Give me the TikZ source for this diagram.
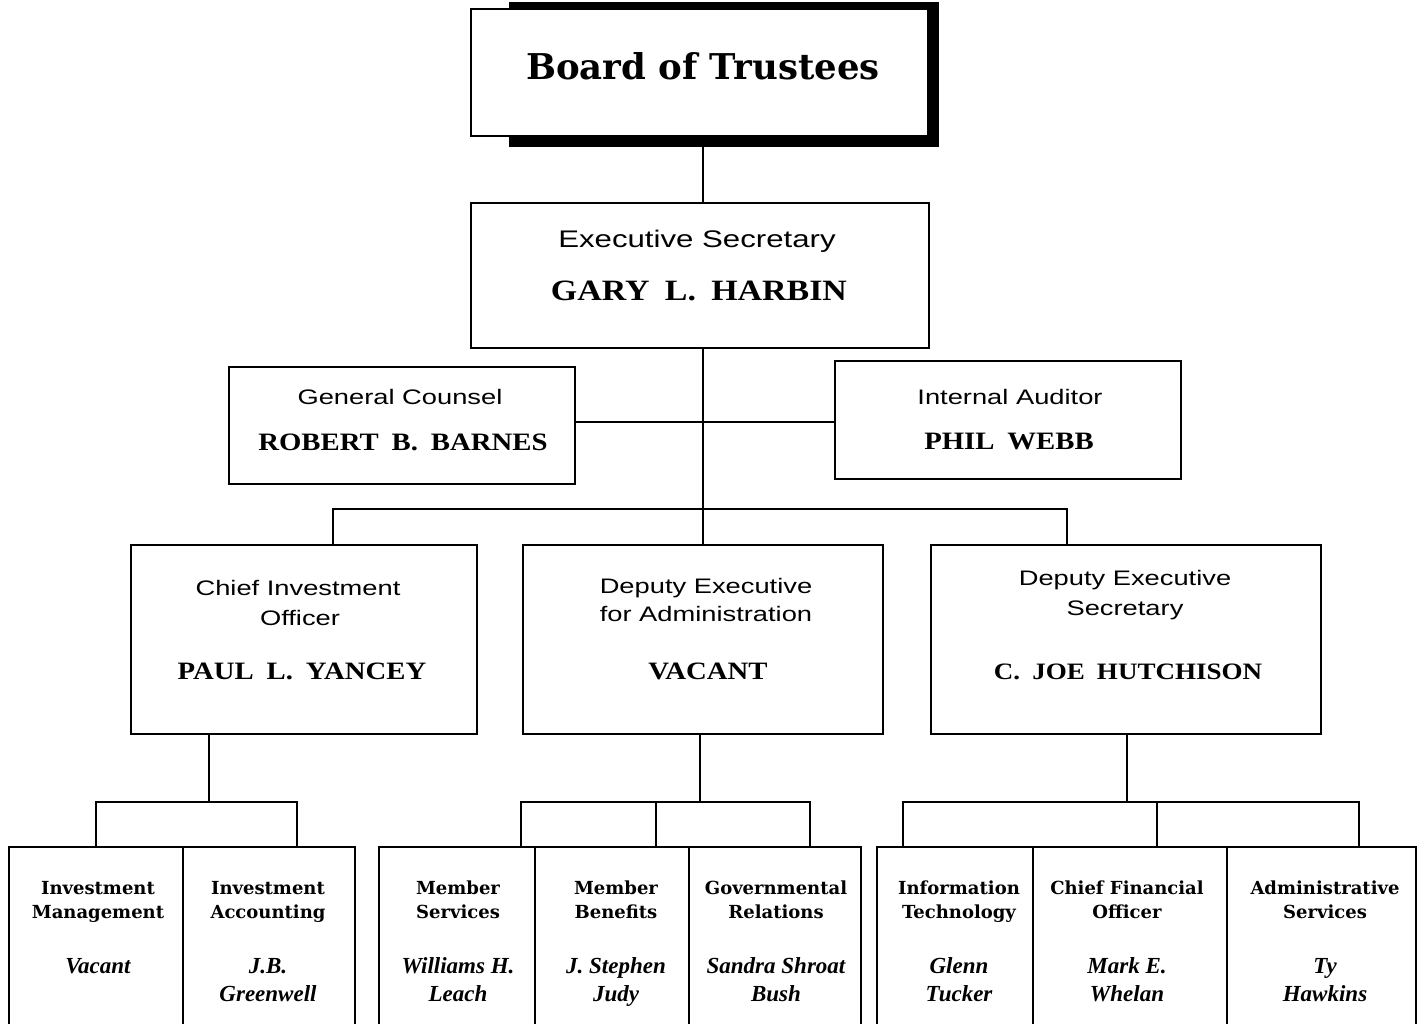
\documentclass[tikz,border=0pt]{standalone}
\usepackage{fontspec}
\newfontfamily\labf[FakeStretch=1.3]{Liberation Sans}
\newfontfamily\namf[FakeStretch=1.15,WordSpace=1.8]{Liberation Serif}
\newfontfamily\ttlf{DejaVu Serif}
\newfontfamily\perf{Liberation Serif}
\newcommand\dept[6]{%
  \node[txt,ttl] (#1t1) at (#2,894) {#3};
  \node[txt,ttl] (#1t2) at (#2,918) {#4};
  \node[txt,per] (#1n1) at (#2,973) {#5};
  \node[txt,per] (#1n2) at (#2,1001) {#6};}
\begin{document}
\begin{tikzpicture}[x=1pt,y=-1pt,
  box/.style={draw, line width=2pt, inner sep=0pt, outer sep=0pt},
  ln/.style={line width=2pt},
  txt/.style={inner sep=0pt, outer sep=0pt, anchor=base},
  lab/.style={font=\labf\fontsize{21}{25}\selectfont},
  nam/.style={font=\namf\bfseries\fontsize{25}{29}\selectfont},
  ttl/.style={font=\ttlf\bfseries\fontsize{18}{22}\selectfont},
  per/.style={font=\perf\bfseries\itshape\fontsize{23}{27}\selectfont}]
\useasboundingbox (0,0) rectangle (1421,1024);
\clip (0,0) rectangle (1421,1024);

% Board of Trustees
\node[fill=black, inner sep=0pt, outer sep=0pt, minimum width=430pt, minimum height=145pt] (boardshadow) at (724,74.5) {};
\node[box, fill=white, minimum width=457pt, minimum height=127pt] (board) at (699.5,72.5) {};
\node[txt, font=\ttlf\bfseries\fontsize{35.5}{40}\selectfont] (boardt) at (703,80) {Board of Trustees};

% Executive Secretary
\node[box, minimum width=458pt, minimum height=145pt] (exec) at (700,275.5) {};
\node[txt, font=\labf\fontsize{24}{28}\selectfont] (exect) at (697,248) {Executive Secretary};
\node[txt, font=\namf\bfseries\fontsize{29.5}{33}\selectfont] (execn) at (699,300) {GARY L. HARBIN};

% staff boxes
\node[box, minimum width=346pt, minimum height=117pt] (gc) at (402,425.5) {};
\node[txt,lab] (gct) at (400,404) {General Counsel};
\node[txt,nam] (gcn) at (403,450) {ROBERT B. BARNES};
\node[box, minimum width=346pt, minimum height=118pt] (ia) at (1008,420) {};
\node[txt,lab] (iat) at (1010,404) {Internal Auditor};
\node[txt,nam] (ian) at (1009,449) {PHIL WEBB};

% third row
\node[box, minimum width=346pt, minimum height=189pt] (cio) at (304,639.5) {};
\node[txt,lab] (ciot1) at (298,595) {Chief Investment};
\node[txt,lab] (ciot2) at (300,625) {Officer};
\node[txt,nam] (cion) at (302,679) {PAUL L. YANCEY};
\node[box, minimum width=360pt, minimum height=189pt] (dea) at (703,639.5) {};
\node[txt,lab] (deat1) at (706,593) {Deputy Executive};
\node[txt,lab] (deat2) at (706,621) {for Administration};
\node[txt,nam] (dean) at (708,679) {VACANT};
\node[box, minimum width=390pt, minimum height=189pt] (des) at (1126,639.5) {};
\node[txt,lab] (dest1) at (1125,585) {Deputy Executive};
\node[txt,lab] (dest2) at (1125,615) {Secretary};
\node[txt,nam,font=\namf\bfseries\fontsize{23.5}{27}\selectfont] (desn) at (1128,679) {C. JOE HUTCHISON};

% bottom row boxes
\node[box, minimum width=174pt, minimum height=193pt] (im) at (96,943.5) {};
\node[box, minimum width=172pt, minimum height=193pt] (iac) at (269,943.5) {};
\node[box, minimum width=156pt, minimum height=193pt] (ms) at (457,943.5) {};
\node[box, minimum width=154pt, minimum height=193pt] (mb) at (612,943.5) {};
\node[box, minimum width=172pt, minimum height=193pt] (gr) at (775,943.5) {};
\node[box, minimum width=156pt, minimum height=193pt] (it) at (955,943.5) {};
\node[box, minimum width=194pt, minimum height=193pt] (cfo) at (1130,943.5) {};
\node[box, minimum width=189pt, minimum height=193pt] (as) at (1321.5,943.5) {};

\node[txt,ttl] (imt1) at (98,894) {Investment};
\node[txt,ttl] (imt2) at (98,918) {Management};
\node[txt,per] (imn1) at (98,973) {Vacant};
\dept{iac}{268}{Investment}{Accounting}{J.B.}{Greenwell}
\dept{ms}{458}{Member}{Services}{Williams H.}{Leach}
\dept{mb}{616}{Member}{Benefits}{J. Stephen}{Judy}
\dept{gr}{776}{Governmental}{Relations}{Sandra Shroat}{Bush}
\dept{it}{959}{Information}{Technology}{Glenn}{Tucker}
\dept{cfo}{1127}{Chief Financial}{Officer}{Mark E.}{Whelan}
\dept{as}{1325}{Administrative}{Services}{Ty}{Hawkins}

% connectors
\coordinate (trunk) at (703,509);
\coordinate (mid) at (703,422);
\coordinate (busL) at (333,509);
\coordinate (busR) at (1067,509);
\draw[ln] (boardshadow.south -| trunk) -- (exec.north -| trunk);
\draw[ln] (exec.south -| trunk) -- (trunk) -- (trunk |- dea.north);
\draw[ln] (gc.east |- mid) -- (ia.west |- mid);
\draw[ln] (busL |- cio.north) -- (busL) -- (busR) -- (busR |- des.north);

\coordinate (b1) at (209,802);
\coordinate (b1L) at (96,802);
\coordinate (b1R) at (297,802);
\draw[ln] (cio.south -| b1) -- (b1);
\draw[ln] (b1L |- im.north) -- (b1L) -- (b1R) -- (b1R |- iac.north);

\coordinate (b2) at (700,802);
\coordinate (b2L) at (521,802);
\coordinate (b2M) at (656,802);
\coordinate (b2R) at (810,802);
\draw[ln] (dea.south -| b2) -- (b2);
\draw[ln] (b2L |- ms.north) -- (b2L) -- (b2R) -- (b2R |- gr.north);
\draw[ln] (b2M) -- (b2M |- mb.north);

\coordinate (b3) at (1127,802);
\coordinate (b3L) at (903,802);
\coordinate (b3M) at (1157,802);
\coordinate (b3R) at (1359,802);
\draw[ln] (des.south -| b3) -- (b3);
\draw[ln] (b3L |- it.north) -- (b3L) -- (b3R) -- (b3R |- as.north);
\draw[ln] (b3M) -- (b3M |- cfo.north);
\end{tikzpicture}
\end{document}
